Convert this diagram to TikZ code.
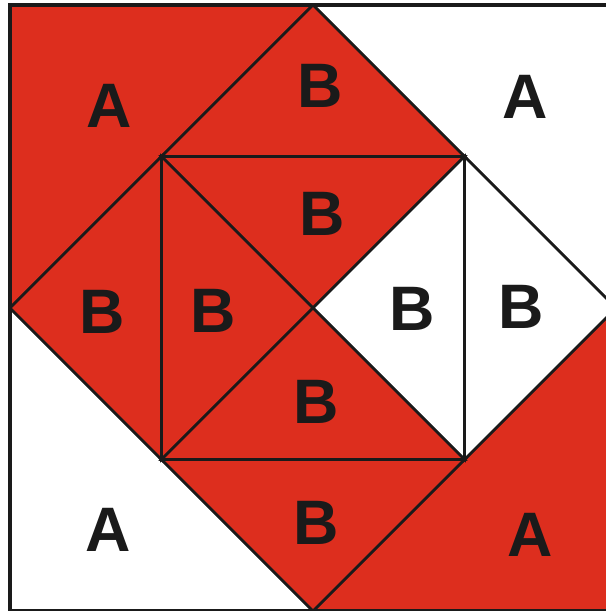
\documentclass[tikz,border=0pt]{standalone}
\usepackage{fontspec}
\setmainfont{Liberation Sans}
\usetikzlibrary{positioning}
\definecolor{tilered}{RGB}{221,46,30}
\definecolor{inkdark}{RGB}{26,26,26}
\tikzset{
  redpiece/.style={fill=tilered, draw=inkdark, line width=0.75pt, line join=miter},
  whitepiece/.style={fill=white, draw=inkdark, line width=0.75pt, line join=miter},
  piecelabel/.style={font=\fontsize{17.7}{18}\selectfont\bfseries, text=inkdark, inner sep=0pt}
}
\begin{document}
\begin{tikzpicture}
  \useasboundingbox (-3.099,-3.0) rectangle (2.901,3.050);
  % outer square corners
  \coordinate (tl) at (-3,3);
  \coordinate (tr) at (3,3);
  \coordinate (bl) at (-3,-3);
  \coordinate (br) at (3,-3);
  % diamond vertices
  \coordinate (dt) at (0,3);
  \coordinate (dr) at (3,0);
  \coordinate (db) at (0,-3);
  \coordinate (dl) at (-3,0);
  % inner square corners and centre
  \coordinate (itl) at (-1.5,1.5);
  \coordinate (itr) at (1.5,1.5);
  \coordinate (ibl) at (-1.5,-1.5);
  \coordinate (ibr) at (1.5,-1.5);
  \coordinate (mid) at (0,0);
  % corner pieces A
  \draw[redpiece] (tl) -- (dt) -- (dl) -- cycle;
  \draw[whitepiece] (dt) -- (tr) -- (dr) -- cycle;
  \draw[whitepiece] (dl) -- (db) -- (bl) -- cycle;
  \draw[redpiece] (dr) -- (br) -- (db) -- cycle;
  % outer pieces B
  \draw[redpiece] (dt) -- (itr) -- (itl) -- cycle;
  \draw[redpiece] (dl) -- (itl) -- (ibl) -- cycle;
  \draw[whitepiece] (dr) -- (ibr) -- (itr) -- cycle;
  \draw[redpiece] (db) -- (ibl) -- (ibr) -- cycle;
  % inner pieces B
  \draw[redpiece] (itl) -- (itr) -- (mid) -- cycle;
  \draw[redpiece] (itl) -- (mid) -- (ibl) -- cycle;
  \draw[whitepiece] (itr) -- (ibr) -- (mid) -- cycle;
  \draw[redpiece] (ibl) -- (mid) -- (ibr) -- cycle;
  % outer frame
  \draw[inkdark, line width=0.9pt] (tl) rectangle (br);
  % labels
  \node[piecelabel] (atl) at (-2.02,2.00) {A};
  \node[piecelabel] (atr) at (2.10,2.09) {A};
  \node[piecelabel] (abl) at (-2.03,-2.20) {A};
  \node[piecelabel] (abr) at (2.15,-2.25) {A};
  \node[piecelabel] (bt) at (0.07,2.20) {B};
  \node[piecelabel] (bl) at (-2.09,-0.04) {B};
  \node[piecelabel] (br) at (2.06,0.01) {B};
  \node[piecelabel] (bb) at (0.03,-2.13) {B};
  \node[piecelabel] (bit) at (0.09,0.93) {B};
  \node[piecelabel] (bil) at (-0.99,-0.03) {B};
  \node[piecelabel] (bir) at (0.98,-0.01) {B};
  \node[piecelabel] (bib) at (0.03,-0.93) {B};
\end{tikzpicture}
\end{document}
